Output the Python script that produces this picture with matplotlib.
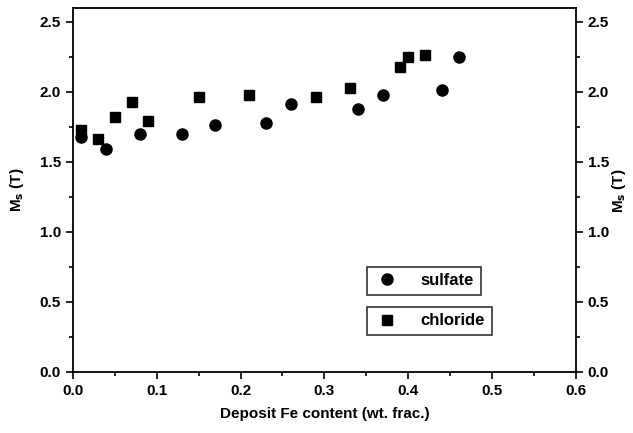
import matplotlib
matplotlib.use('Agg')
import matplotlib.pyplot as plt
from matplotlib.ticker import MultipleLocator

plt.rcParams['font.family'] = ['Liberation Sans', 'DejaVu Sans']
plt.rcParams['font.weight'] = 'bold'

# sulfate bath (circles)
sulf_x = [0.01, 0.04, 0.08, 0.13, 0.17, 0.23, 0.26, 0.34, 0.37, 0.44, 0.46]
sulf_y = [1.68, 1.59, 1.70, 1.70, 1.76, 1.78, 1.91, 1.88, 1.98, 2.01, 2.25]
# chloride bath (squares)
chl_x = [0.01, 0.03, 0.05, 0.07, 0.09, 0.15, 0.21, 0.29, 0.33, 0.39, 0.40, 0.42]
chl_y = [1.73, 1.66, 1.82, 1.93, 1.79, 1.96, 1.98, 1.96, 2.03, 2.18, 2.25, 2.26]

fig = plt.figure(figsize=(6.33, 4.33), dpi=100)
ax = fig.add_axes([0.115, 0.141, 0.795, 0.841])

h1, = ax.plot(sulf_x, sulf_y, 'o', color='black', markersize=8, linestyle='none')
h2, = ax.plot(chl_x, chl_y, 's', color='black', markersize=7, linestyle='none')

ax.set_xlim(0, 0.6)
ax.set_ylim(0, 2.6)
ax.xaxis.set_major_locator(MultipleLocator(0.1))
ax.xaxis.set_minor_locator(MultipleLocator(0.05))
ax.yaxis.set_major_locator(MultipleLocator(0.5))
ax.yaxis.set_minor_locator(MultipleLocator(0.25))
ax.xaxis.set_major_formatter(plt.FuncFormatter(lambda v, p: '%.1f' % v))
ax.yaxis.set_major_formatter(plt.FuncFormatter(lambda v, p: '%.1f' % v))

ax.tick_params(which='both', direction='out', labelsize=11, width=1.2)
ax.tick_params(which='major', length=5)
ax.tick_params(which='minor', length=3)
ax.tick_params(axis='y', which='both', right=True, labelright=True)
for s in ax.spines.values():
    s.set_linewidth(1.3)

ax.set_xlabel('Deposit Fe content (wt. frac.)', fontsize=11, fontweight='bold', labelpad=7)
ax.set_ylabel(r'M$_\mathbf{s}$ (T)', fontsize=11, fontweight='bold', labelpad=10)
fig.text(0.978, 0.56, r'M$_\mathbf{s}$ (T)', fontsize=11, fontweight='bold',
         rotation=90, ha='center', va='center')

leg1 = ax.legend([h1], ['sulfate'], loc='upper left', bbox_to_anchor=(0.569, 0.312),
                 fancybox=False, edgecolor='black', fontsize=12, handlelength=1.5,
                 borderpad=0.4, handletextpad=1.3)
leg1.get_frame().set_linewidth(1.2)
ax.add_artist(leg1)
leg2 = ax.legend([h2], ['chloride'], loc='upper left', bbox_to_anchor=(0.569, 0.202),
                 fancybox=False, edgecolor='black', fontsize=12, handlelength=1.5,
                 borderpad=0.4, handletextpad=1.3)
leg2.get_frame().set_linewidth(1.2)

fig.savefig('out.png', dpi=100)
